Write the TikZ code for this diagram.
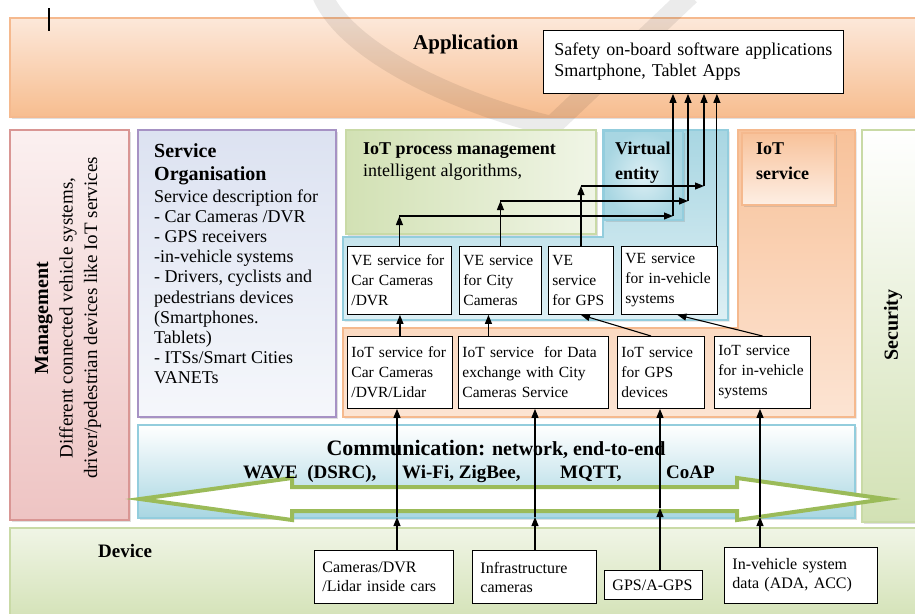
\documentclass[tikz,border=0pt]{standalone}
\usepackage{fontspec}
\setmainfont{Liberation Serif}
\usetikzlibrary{arrows.meta,shadows}

\definecolor{appTop}{HTML}{FCE8DA}
\definecolor{appBot}{HTML}{F7BD8F}
\definecolor{appLine}{HTML}{F5B98E}
\definecolor{mgmtTop}{HTML}{FBF0F0}
\definecolor{mgmtBot}{HTML}{EEC4C3}
\definecolor{mgmtLine}{HTML}{D99694}
\definecolor{soTop}{HTML}{DCE2F1}
\definecolor{soBot}{HTML}{F5F7FB}
\definecolor{soLine}{HTML}{A692C4}
\definecolor{grnDark}{HTML}{D2E1B4}
\definecolor{grnLight}{HTML}{F0F5E6}
\definecolor{grnLine}{HTML}{C9DAA6}
\definecolor{bluDark}{HTML}{A8D6E2}
\definecolor{bluLight}{HTML}{DDEFF4}
\definecolor{bluLine}{HTML}{93CDDD}
\definecolor{iotDark}{HTML}{F8C29A}
\definecolor{iotLight}{HTML}{FCE4D3}
\definecolor{arrGreen}{HTML}{9BBB59}

\begin{document}
\begin{tikzpicture}[x=1pt, y=-1pt,
  layer/.style={line width=1.2pt, drop shadow={shadow xshift=1.5pt, shadow yshift=-1.5pt, opacity=.25}},
  svcbox/.style={draw, fill=white, line width=.9pt, anchor=north west, align=left, inner xsep=4pt, inner ysep=2pt, font=\fontsize{15.5}{20}\selectfont},
  devbox/.style={svcbox, inner xsep=8pt, font=\fontsize{16}{19}\selectfont},
  head/.style={inner sep=0pt, align=left, anchor=north west, font=\fontsize{18}{25}\selectfont\bfseries},
  link/.style={line width=1.1pt, -{Triangle[length=9pt, width=7pt]}}]

  \useasboundingbox (0,0) rectangle (915,613);

  % application band
  \path[layer, draw=appLine, top color=appTop, bottom color=appBot] (10,18) rectangle (935,117);
  \draw[line width=20pt, black, opacity=.08, line join=round] (322,-5) .. controls (350,60) and (480,110) .. (552,126) -- (690,-5);
  \draw[line width=1.4pt] (49,8) -- (49,31);

  % side and middle layers
  \path[layer, draw=mgmtLine, top color=mgmtTop, bottom color=mgmtBot] (10,130) rectangle (129,520);
  \path[layer, draw=soLine, top color=soTop, bottom color=soBot] (138,130) rectangle (336,417);
  \path[layer, draw=grnLine, left color=grnDark, right color=grnLight] (346,130) rectangle (596,234);
  \path[layer, draw=bluLine, top color=bluDark, bottom color=bluLight] (603,130) -- (728,130) -- (728,320) -- (343,320) -- (343,237) -- (603,237) -- cycle;
  \path[layer, draw=bluLine, inner color=bluLight, outer color=bluDark] (604,131) rectangle (683,220);
  \path[layer, draw=appLine, top color=iotDark, bottom color=iotLight] (738,130) -- (855,130) -- (855,417) -- (343,417) -- (343,328) -- (738,328) -- cycle;
  \path[layer, draw=appLine, top color=iotDark, bottom color=iotLight!60!white] (742,133) rectangle (835,205);
  \path[layer, draw=grnLine, top color=white, bottom color=grnDark] (862,130) rectangle (935,522);
  \path[layer, draw=bluLine, top color=white, bottom color=bluDark] (138,425) rectangle (855,518);
  \path[layer, draw=grnLine, top color=grnLight, bottom color=grnDark] (10,528) rectangle (935,625);

  % network arrow
  \draw[arrGreen, line width=4pt, fill=white, line join=miter] (140,499) -- (292,478) -- (292,487) -- (737,487) -- (737,478) -- (886,499) -- (737,520) -- (737,511) -- (292,511) -- (292,520) -- cycle;

  % titles
  \node[anchor=base west, inner sep=0pt, font=\fontsize{21}{21}\selectfont\bfseries] (apptitle) at (413,49) {Application};
  \node[svcbox, inner xsep=11pt, text width=278pt, minimum height=63pt, font=\fontsize{18}{21}\selectfont] (apps) at (543,30) {Safety on-board software applications\\Smartphone, Tablet Apps};
  \node[rotate=90, align=center, font=\fontsize{19}{24.5}\selectfont] (mgmt) at (68,318) {{\fontsize{20}{24.5}\selectfont\bfseries Management}\\Different connected vehicle systems,\\driver/pedestrian devices like IoT services};
  \node[rotate=90, font=\fontsize{20}{20}\selectfont\bfseries] (sec) at (893,325) {Security};
  \node[head, font=\fontsize{18}{20.1}\selectfont] (soText) at (154,143.5) {{\fontsize{20}{20.1}\selectfont\bfseries Service}\\[2.9pt]{\fontsize{20}{20.1}\selectfont\bfseries Organisation}\\[1.9pt]Service description for\\- Car Cameras /DVR\\- GPS receivers\\-in-vehicle systems\\- Drivers, cyclists and\\pedestrians devices\\(Smartphones.\\Tablets)\\- ITSs/Smart Cities\\VANETs};
  \node[head, font=\fontsize{18}{22}\selectfont] (ipm) at (363,142.8) {\textbf{IoT process management}\\intelligent algorithms,};
  \node[head] (vent) at (615,141.6) {Virtual\\entity};
  \node[head] (iserv) at (756,143) {IoT\\service};
  \node[anchor=base, inner sep=0pt, font=\bfseries] (comm) at (496,455) {{\fontsize{22}{22}\selectfont Communication:}{\fontsize{20}{20}\selectfont{} network, end-to-end}};
  \foreach \name/\px/\txt in {wave/243/{WAVE~ (DSRC),}, wifi/402/{Wi-Fi, ZigBee,}, mqtt/560/{MQTT,}, coap/666/{CoAP}}
    \node[anchor=base west, inner sep=0pt, font=\fontsize{19}{19}\selectfont\bfseries] (\name) at (\px,478) {\txt};
  \node[anchor=base west, inner sep=0pt, font=\fontsize{19}{19}\selectfont\bfseries] (devtitle) at (98,557) {Device};

  % service rows
  \foreach \name/\px/\w/\txt in {ve1/347/96pt/{VE service for\\Car Cameras\\/DVR}, ve2/459/74pt/{VE service\\for City\\Cameras}, ve3/548/57pt/{VE\\service\\for GPS}, ve4/621/88pt/{VE service\\for in-vehicle\\systems}}
    \node[svcbox, text width=\w, minimum height=68pt] (\name) at (\px,246) {\txt};
  \foreach \name/\px/\w/\txt in {iot1/347/97pt/{IoT service for\\Car Cameras\\/DVR/Lidar}, iot2/458/142pt/{IoT service~ for Data\\exchange with City\\Cameras Service}, iot3/617/79pt/{IoT service\\for GPS\\devices}, iot4/714/88pt/{IoT service\\for in-vehicle\\systems}}
    \node[svcbox, text width=\w, minimum height=72pt] (\name) at (\px,336) {\txt};

  % devices
  \foreach \name/\px/\py/\w/\h/\txt in {dev1/314/550/123pt/53pt/{Cameras/DVR\\/Lidar inside cars}, dev2/472/550/108pt/53pt/{Infrastructure\\cameras}, dev3/604/570/82pt/29pt/{GPS/A-GPS}, dev4/724/547/137pt/56pt/{In-vehicle system\\data (ADA, ACC)}}
    \node[devbox, text width=\w, minimum height=\h] (\name) at (\px,\py) {\txt};

  % links from devices
  \coordinate (c1) at (397,517);
  \coordinate (c2) at (535,517);
  \coordinate (c3) at (660,508);
  \coordinate (c4) at (760,517);
  \foreach \d/\c/\i in {dev1/c1/iot1, dev2/c2/iot2, dev3/c3/iot3, dev4/c4/iot4} {
    \draw[link] (\d.north -| \c) -- (\c);
    \draw[link] (\c) -- (\c |- \i.south);
  }

  % links between the service rows
  \draw[link] (iot1.north) -- (iot1.north |- ve1.south);
  \draw[link] ([xshift=-12pt]ve2.south |- iot2.north) -- ([xshift=-12pt]ve2.south);
  \draw[link] ([xshift=-10pt]iot3.north) -- (ve3.south);
  \draw[link] (iot4.north) -- ([xshift=8pt]ve4.south);

  % links up to the applications
  \coordinate (k1) at (673,216);
  \coordinate (k2) at (688,201);
  \coordinate (k3) at (704,186);
  \foreach \v/\k in {ve1/k1, ve2/k2, ve3/k3} {
    \draw[link] (\v.north) -- (\v.north |- \k);
    \draw[link] (\v.north |- \k) -- (\k);
    \draw[link] (\k) -- (\k |- apps.south);
  }
  \draw[link] ([xshift=-1pt]ve4.north east) -- ([xshift=-1pt]ve4.north east |- apps.south);
\end{tikzpicture}
\end{document}
